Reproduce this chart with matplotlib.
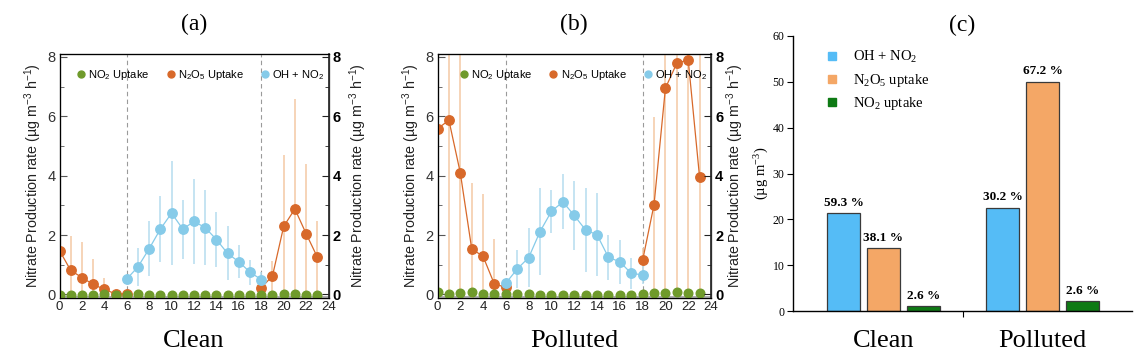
import numpy as np
import matplotlib
matplotlib.use("Agg")
import matplotlib.pyplot as plt
from matplotlib.lines import Line2D

# ---------------- data ----------------
hours = np.arange(24)
nan = np.nan

clean_no2 = [-0.03, -0.03, -0.03, -0.03, 0.02, -0.03, -0.03, 0.0, -0.03, -0.03, -0.03, -0.03,
             -0.03, -0.03, -0.03, -0.03, -0.03, -0.03, -0.03, -0.02, 0.02, 0.03, -0.02, -0.03]
clean_n2o5 = [1.48, 0.81, 0.57, 0.34, 0.17, 0.02, 0.02, nan, nan, nan, nan, nan,
              nan, nan, nan, nan, nan, nan, 0.23, 0.62, 2.29, 2.88, 2.05, 1.26]
clean_n2o5_err = [0.3, 1.15, 1.2, 0.86, 0.38, 0.1, 0.05, nan, nan, nan, nan, nan,
                  nan, nan, nan, nan, nan, nan, 0.2, 0.52, 2.42, 3.72, 2.35, 1.2]
clean_oh = [nan, nan, nan, nan, nan, nan, 0.52, 0.93, 1.54, 2.2, 2.74, 2.2,
            2.46, 2.25, 1.85, 1.38, 1.1, 0.75, 0.5, nan, nan, nan, nan, nan]
clean_oh_err = [nan, nan, nan, nan, nan, nan, 0.15, 0.63, 0.93, 1.1, 1.75, 0.99,
                1.42, 1.27, 0.93, 0.91, 0.56, 0.42, 0.25, nan, nan, nan, nan, nan]

polluted_no2 = [0.07, 0.0, 0.04, 0.07, 0.0, 0.02, 0.02, 0.02, 0.0, -0.01, -0.01, -0.02,
                -0.01, -0.02, -0.02, -0.02, -0.02, -0.01, 0.02, 0.04, 0.06, 0.07, 0.06, 0.05]
polluted_n2o5 = [5.58, 5.87, 4.1, 1.54, 1.28, 0.34, 0.25, nan, nan, nan, nan, nan,
                 nan, nan, nan, nan, nan, nan, 1.15, 3.02, 6.95, 7.79, 7.9, 3.94]
polluted_n2o5_err = [4.0, 6.0, 4.5, 2.23, 2.1, 1.52, 0.2, nan, nan, nan, nan, nan,
                     nan, nan, nan, nan, nan, nan, 0.4, 2.95, 7.0, 7.8, 7.9, 5.0]
polluted_oh = [nan, nan, nan, nan, nan, nan, 0.38, 0.86, 1.24, 2.12, 2.8, 3.12,
               2.66, 2.17, 2.01, 1.25, 1.1, 0.71, 0.66, nan, nan, nan, nan, nan]
polluted_oh_err = [nan, nan, nan, nan, nan, nan, 0.15, 0.63, 0.99, 1.47, 0.73, 0.93,
                   1.15, 1.43, 1.4, 0.76, 0.75, 0.51, 0.3, nan, nan, nan, nan, nan]

categories = ["Clean", "Polluted"]
bar_oh = [21.3, 22.5]
bar_n2o5 = [13.7, 50.0]
bar_no2 = [1.05, 2.1]
pct_oh = ["59.3 %", "30.2 %"]
pct_n2o5 = ["38.1 %", "67.2 %"]
pct_no2 = ["2.6 %", "2.6 %"]

xticks_hours = list(range(0, 25, 2))
yticks_rate = [0, 2, 4, 6, 8]
yticks_bar = [0, 10, 20, 30, 40, 50, 60]

# ---------------- style ----------------
C_GREEN = "#6f9a2b"
C_ORANGE = "#d8692a"
C_BLUE = "#86cbe9"
C_EORANGE = "#f4c9a4"
C_EBLUE = "#b5ddef"
SANS = ["Liberation Sans", "DejaVu Sans"]
SERIF = ["Liberation Serif", "DejaVu Serif"]

W, H = 1147, 357
fig = plt.figure(figsize=(W / 100, H / 100), dpi=100)


def frac(l, r, t, b):
    return [l / W, 1 - b / H, (r - l) / W, (b - t) / H]


ylab = "Nitrate Production rate (µg m$\\mathregular{^{-3}}$ h$\\mathregular{^{-1}}$)"
CAT_Y = 1 - 341 / H


def rate_panel(rect, no2, n2o5, n2o5_err, oh, oh_err, title, cat, rpad):
    ax = fig.add_axes(rect)
    ax.set_xlim(0, 24)
    ax.set_ylim(-0.12, 8.1)
    for x in (6, 18):
        ax.axvline(x, color="#9a9a9a", lw=0.8, ls=(0, (4, 3)), zorder=1)
    ax.axhline(-0.08, color="#b0b0b0", lw=2.2, zorder=1)
    ax.errorbar(hours, n2o5, yerr=n2o5_err, fmt="none", ecolor=C_EORANGE,
                elinewidth=1.1, capsize=0, zorder=2)
    ax.errorbar(hours, oh, yerr=oh_err, fmt="none", ecolor=C_EBLUE,
                elinewidth=1.1, capsize=0, zorder=2)
    ax.plot(hours, n2o5, "-o", color=C_ORANGE, lw=0.9, ms=6.8, zorder=4)
    ax.plot(hours, oh, "-o", color=C_BLUE, lw=0.9, ms=6.8, zorder=4)
    ax.plot(hours, no2, "o", color=C_GREEN, ms=6.2, zorder=5)

    ax.set_xticks(xticks_hours)
    ax.set_xticklabels([str(v) for v in xticks_hours], family=SANS, fontsize=9.5, color="#222")
    ax.set_yticks(yticks_rate)
    ax.set_yticklabels([str(v) for v in yticks_rate], family=SANS, fontsize=10.5, color="#333")
    ax.set_yticks([1, 3, 5, 7], minor=True)
    ax.tick_params(axis="x", direction="in", length=0, pad=2)
    ax.tick_params(axis="y", which="major", direction="in", length=5, color="#555", pad=3)
    ax.tick_params(axis="y", which="minor", direction="in", length=3, color="#555")
    for s in ax.spines.values():
        s.set_color("#6a6a6a")
        s.set_linewidth(1.0)
    ax.set_ylabel(ylab, family=SANS, fontsize=10.3, color="#222", labelpad=2)

    ax2 = ax.twinx()
    ax2.set_ylim(ax.get_ylim())
    ax2.set_yticks(yticks_rate)
    ax2.set_yticklabels([str(v) for v in yticks_rate], family=SANS, fontsize=10.5,
                        fontweight="bold", color="black")
    ax2.set_yticks([1, 3, 5, 7], minor=True)
    ax2.tick_params(axis="y", which="major", direction="in", length=5, color="#222", pad=3)
    ax2.tick_params(axis="y", which="minor", direction="in", length=3, color="#222")
    ax2.spines["right"].set_color("#222")
    ax2.spines["right"].set_linewidth(1.2)
    ax2.set_ylabel(ylab, family=SANS, fontsize=10.3, color="#222", labelpad=rpad)

    handles = [Line2D([], [], marker="o", ls="none", color=C_GREEN, ms=5),
               Line2D([], [], marker="o", ls="none", color=C_ORANGE, ms=5),
               Line2D([], [], marker="o", ls="none", color=C_BLUE, ms=5)]
    labels = ["NO$\\mathregular{_2}$ Uptake", "N$\\mathregular{_2}$O$\\mathregular{_5}$ Uptake",
              "OH + NO$\\mathregular{_2}$"]
    ax.legend(handles, labels, ncol=3, loc="upper right", bbox_to_anchor=(1.01, 0.97),
              frameon=False, prop={"family": SANS, "size": 8}, handlelength=0.6,
              handletextpad=0.35, columnspacing=1.6, borderaxespad=0.2)
    ax.set_title(title, family=SERIF, fontsize=17, pad=17)
    fig.text((rect[0] + rect[2] / 2), CAT_Y, cat, ha="center", va="center",
             family=SERIF, fontsize=19)
    return ax


rate_panel(frac(59.5, 328.5, 54, 298), clean_no2, clean_n2o5, clean_n2o5_err,
           clean_oh, clean_oh_err, "(a)", "Clean", 5)
rate_panel(frac(437.5, 711, 54, 298), polluted_no2, polluted_n2o5, polluted_n2o5_err,
           polluted_oh, polluted_oh_err, "(b)", "Polluted", 1)

# ---------------- panel (c) ----------------
axc = fig.add_axes(frac(793, 1132, 36, 311))
xc = np.arange(len(categories))
bw = 0.21
off = 0.25
b1 = axc.bar(xc - off, bar_oh, bw, color="#55bcf6", edgecolor="#3a3a3a", lw=0.9, label="OH + NO$\\mathregular{_2}$")
b2 = axc.bar(xc, bar_n2o5, bw, color="#f4a766", edgecolor="#3a3a3a", lw=0.9,
             label="N$\\mathregular{_2}$O$\\mathregular{_5}$ uptake")
b3 = axc.bar(xc + off, bar_no2, bw, color="#0e7a14", edgecolor="#3a3a3a", lw=0.9,
             label="NO$\\mathregular{_2}$ uptake")
for bars, labs in ((b1, pct_oh), (b2, pct_n2o5), (b3, pct_no2)):
    for rect, lab in zip(bars, labs):
        axc.text(rect.get_x() + rect.get_width() / 2, rect.get_height() + 1.0, lab,
                 ha="center", va="bottom", family=SERIF, fontsize=9.5, fontweight="bold")
axc.set_xlim(-0.569, 1.563)
axc.set_ylim(0, 60)
axc.set_yticks(yticks_bar)
axc.set_yticklabels([str(v) for v in yticks_bar], family=SERIF, fontsize=8.5)
axc.set_xticks([0.5])
axc.set_xticklabels([""])
axc.tick_params(axis="x", direction="out", length=4, color="black")
axc.tick_params(axis="y", direction="out", length=4, color="black", pad=2)
axc.spines["top"].set_visible(False)
axc.spines["right"].set_visible(False)
for s in ("left", "bottom"):
    axc.spines[s].set_linewidth(1.0)
    axc.spines[s].set_color("black")
for i, c in enumerate(categories):
    axc.text(xc[i], CAT_Y, c, transform=axc.get_xaxis_transform() if False else
             matplotlib.transforms.blended_transform_factory(axc.transData, fig.transFigure),
             ha="center", va="center", family=SERIF, fontsize=19)
axc.set_ylabel("(µg m$\\mathregular{^{-3}}$)", family=SERIF, fontsize=10.5, labelpad=1)
axc.set_title("(c)", family=SERIF, fontsize=17, pad=2)
lh = [Line2D([], [], marker="s", ls="none", color="#55bcf6", ms=5.5),
      Line2D([], [], marker="s", ls="none", color="#f4a766", ms=5.5),
      Line2D([], [], marker="s", ls="none", color="#0e7a14", ms=5.5)]
axc.legend(lh, [b1.get_label(), b2.get_label(), b3.get_label()], loc="upper left",
           bbox_to_anchor=(0.06, 1.0), frameon=False, prop={"family": SERIF, "size": 10.5},
           handlelength=0.8, handletextpad=1.0, labelspacing=0.45)

fig.savefig("out.png", dpi=100)
